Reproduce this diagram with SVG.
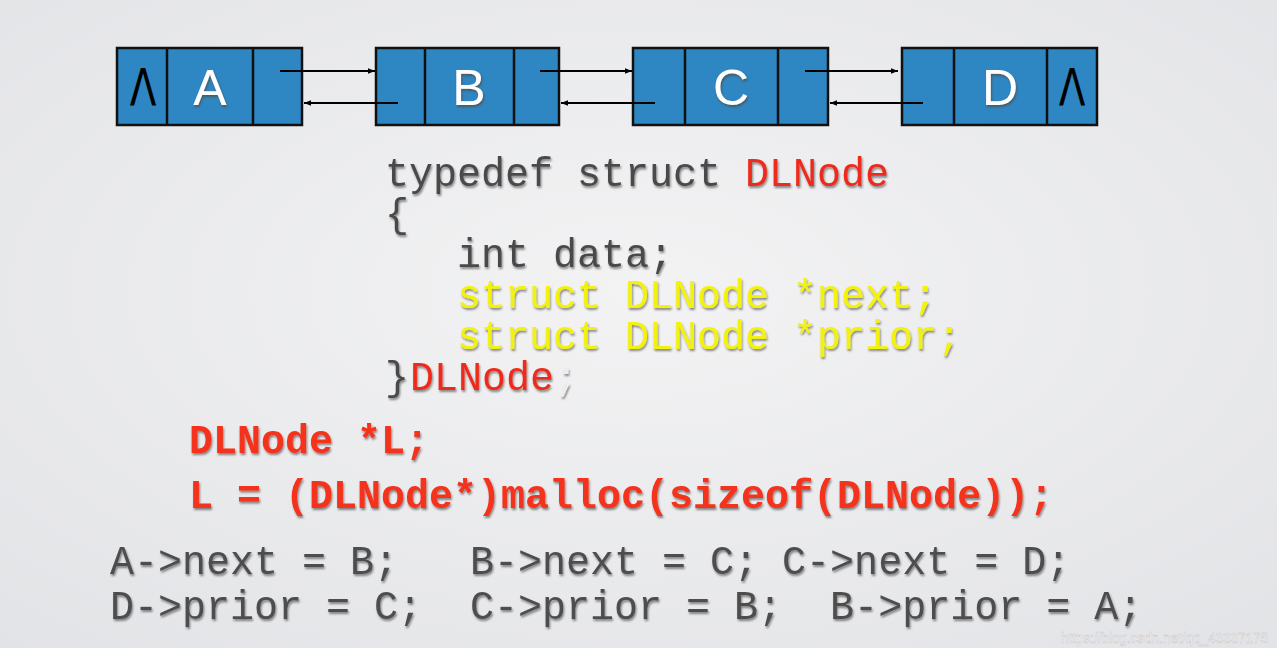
<svg xmlns="http://www.w3.org/2000/svg" width="1277" height="648" viewBox="0 0 1277 648">
<defs>
<radialGradient id="bg" cx="0.5" cy="0.45" r="0.75">
<stop offset="0" stop-color="#f3f3f4"/>
<stop offset="1" stop-color="#e2e3e6"/>
</radialGradient>
<filter id="sh" x="-5%" y="-20%" width="110%" height="150%">
<feDropShadow dx="1" dy="2" stdDeviation="1.2" flood-color="#000" flood-opacity="0.45"/>
</filter>
<filter id="shw" x="-20%" y="-20%" width="140%" height="150%">
<feDropShadow dx="1" dy="2" stdDeviation="1.2" flood-color="#5a3a20" flood-opacity="0.6"/>
</filter>
<marker id="ah" viewBox="0 0 10 10" refX="10" refY="5" markerWidth="7" markerHeight="7" markerUnits="userSpaceOnUse" orient="auto">
<path d="M0,1 L10,5 L0,9 Z" fill="#000"/>
</marker>
<style>
.box{fill:#2e86c2;stroke:#111;stroke-width:2.5}
.div{stroke:#111;stroke-width:2.5}
.lbl{font-family:"Liberation Sans",Arial,sans-serif;font-size:50px;fill:#fff;text-anchor:middle}
.nul{font-family:"DejaVu Sans","Liberation Sans",sans-serif;font-size:52px;fill:#000;text-anchor:middle}
.con{stroke:#000;stroke-width:2;fill:none;marker-end:url(#ah)}
.code{font-family:"Liberation Mono","Courier New",monospace;font-size:40px}
.g{fill:#4a4a4a}
.r{fill:#ee2a1c}
.y{fill:#f2f20a}
.rb{fill:#f5301a;font-weight:bold}
.sm{font-family:"Liberation Mono","Courier New",monospace;font-size:40px;fill:#4e4e4e}
</style>
</defs>
<rect x="0" y="0" width="1277" height="648" fill="url(#bg)"/>

<g id="node-A">
<rect class="box" x="117" y="48" width="185" height="77"/>
<line class="div" x1="167" y1="48" x2="167" y2="125"/>
<line class="div" x1="253" y1="48" x2="253" y2="125"/>
<text class="nul" x="143" y="106" transform="translate(143 0) scale(0.75 1) translate(-143 0)">Λ</text>
<text class="lbl" x="210" y="105" filter="url(#shw)">A</text>
</g>
<g id="node-B">
<rect class="box" x="376" y="48" width="183" height="77"/>
<line class="div" x1="425" y1="48" x2="425" y2="125"/>
<line class="div" x1="514" y1="48" x2="514" y2="125"/>
<text class="lbl" x="469" y="105" filter="url(#shw)">B</text>
</g>
<g id="node-C">
<rect class="box" x="633" y="48" width="195" height="77"/>
<line class="div" x1="685" y1="48" x2="685" y2="125"/>
<line class="div" x1="778" y1="48" x2="778" y2="125"/>
<text class="lbl" x="731" y="105" filter="url(#shw)">C</text>
</g>
<g id="node-D">
<rect class="box" x="902" y="48" width="195" height="77"/>
<line class="div" x1="954" y1="48" x2="954" y2="125"/>
<line class="div" x1="1047" y1="48" x2="1047" y2="125"/>
<text class="lbl" x="1000" y="105" filter="url(#shw)">D</text>
<text class="nul" x="1072" y="106" transform="translate(1072 0) scale(0.75 1) translate(-1072 0)">Λ</text>
</g>

<g id="connectors">
<line class="con" x1="280" y1="71" x2="375" y2="71"/>
<line class="con" x1="398" y1="103" x2="304" y2="103"/>
<line class="con" x1="540" y1="71" x2="632" y2="71"/>
<line class="con" x1="655" y1="103" x2="561" y2="103"/>
<line class="con" x1="805" y1="71" x2="898" y2="71"/>
<line class="con" x1="923" y1="103" x2="830" y2="103"/>
</g>

<g id="struct-code" class="code" filter="url(#sh)">
<text x="385" y="186" xml:space="preserve"><tspan class="g">typedef struct </tspan><tspan class="r">DLNode</tspan></text>
<text x="385" y="227" class="g">{</text>
<text x="457" y="267" class="g">int data;</text>
<text x="457" y="308" class="y">struct DLNode *next;</text>
<text x="457" y="349" class="y">struct DLNode *prior;</text>
<text x="385" y="390"><tspan class="g">}</tspan><tspan class="r" x="410">DLNode</tspan><tspan fill="#ececec">;</tspan></text>
</g>

<g id="malloc-code" class="code" filter="url(#sh)">
<text x="189" y="453" class="rb">DLNode *L;</text>
<text x="189" y="508" class="rb">L = (DLNode*)malloc(sizeof(DLNode));</text>
</g>

<g id="assign-code" filter="url(#sh)">
<text x="110" y="574" class="sm" xml:space="preserve">A-&gt;next = B;   B-&gt;next = C; C-&gt;next = D;</text>
<text x="110" y="619" class="sm" xml:space="preserve">D-&gt;prior = C;  C-&gt;prior = B;  B-&gt;prior = A;</text>
</g>

<text x="1268" y="643" text-anchor="end" font-family="'Liberation Sans Narrow','Liberation Sans',sans-serif" font-size="15" fill="#ffffff" stroke="#c4c4c4" stroke-width="0.5" transform="translate(1268 0) scale(0.9 1) translate(-1268 0)">https://blog.csdn.net/qq_43337175</text>
</svg>
